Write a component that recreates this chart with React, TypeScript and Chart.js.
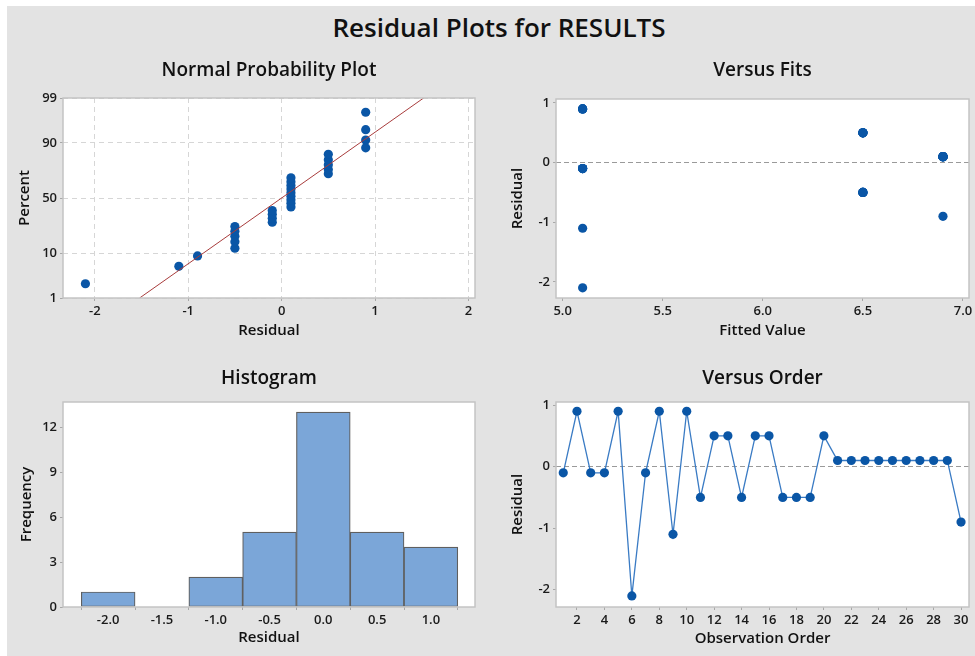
import React, { useEffect, useRef } from "react";
import { Chart, registerables } from "chart.js";

Chart.register(...registerables);

const FONT = '"Open Sans", "Noto Sans", sans-serif';

// ---------- Normal probability plot ----------
const npResiduals = [
  -2.1, -1.1, -0.9, -0.5, -0.5, -0.5, -0.5, -0.5, -0.1, -0.1, -0.1, -0.1,
  0.1, 0.1, 0.1, 0.1, 0.1, 0.1, 0.1, 0.1, 0.1, 0.5, 0.5, 0.5, 0.5, 0.5,
  0.9, 0.9, 0.9, 0.9,
];
const npPercents = [
  2.30, 5.59, 8.88, 12.17, 15.46, 18.75, 22.04, 25.33, 28.62, 31.91, 35.2,
  38.49, 41.78, 45.07, 48.36, 51.64, 54.93, 58.22, 61.51, 64.8, 68.09, 71.38,
  74.67, 77.96, 81.25, 84.54, 87.83, 91.12, 94.41, 97.7,
];
const npFitResidual = [-1.52, 1.52];
const npFitPercent = [1, 99];
const npXTicks = [-2, -1, 0, 1, 2];
const npYTicks = [1, 10, 50, 90, 99];

// ---------- Versus fits / order ----------
const fittedValues = [
  5.1, 5.1, 5.1, 5.1, 5.1, 5.1, 5.1, 5.1, 5.1, 5.1,
  6.5, 6.5, 6.5, 6.5, 6.5, 6.5, 6.5, 6.5, 6.5, 6.5,
  6.9, 6.9, 6.9, 6.9, 6.9, 6.9, 6.9, 6.9, 6.9, 6.9,
];
const observationOrder = [
  1, 2, 3, 4, 5, 6, 7, 8, 9, 10, 11, 12, 13, 14, 15, 16, 17, 18, 19, 20, 21,
  22, 23, 24, 25, 26, 27, 28, 29, 30,
];
const orderResiduals = [
  -0.1, 0.9, -0.1, -0.1, 0.9, -2.1, -0.1, 0.9, -1.1, 0.9,
  -0.5, 0.5, 0.5, -0.5, 0.5, 0.5, -0.5, -0.5, -0.5, 0.5,
  0.1, 0.1, 0.1, 0.1, 0.1, 0.1, 0.1, 0.1, 0.1, -0.9,
];
const fitsXTicks = [5.0, 5.5, 6.0, 6.5, 7.0];
const residualTicks = [-2, -1, 0, 1];
const orderXTicks = [2, 4, 6, 8, 10, 12, 14, 16, 18, 20, 22, 24, 26, 28, 30];

// ---------- Histogram ----------
const histCenters = [-2.0, -1.5, -1.0, -0.5, 0.0, 0.5, 1.0];
const histCounts = [1, 0, 2, 5, 13, 5, 4];
const histYTicks = [0, 3, 6, 9, 12];

// inverse standard normal CDF (probability-scale transform)
function probit(p: number): number {
  const a = [-3.969683028665376e1, 2.209460984245205e2, -2.759285104469687e2, 1.38357751867269e2, -3.066479806614716e1, 2.506628277459239];
  const b = [-5.447609879822406e1, 1.615858368580409e2, -1.556989798598866e2, 6.680131188771972e1, -1.328068155288572e1];
  const c = [-7.784894002430293e-3, -3.223964580411365e-1, -2.400758277161838, -2.549671010139401, 4.374664141464968, 2.938163982698783];
  const d = [7.784695709041462e-3, 3.224671290700398e-1, 2.445134137142996, 3.754408661907416];
  const pl = 0.02425;
  if (p < pl) {
    const q = Math.sqrt(-2 * Math.log(p));
    return (((((c[0] * q + c[1]) * q + c[2]) * q + c[3]) * q + c[4]) * q + c[5]) / ((((d[0] * q + d[1]) * q + d[2]) * q + d[3]) * q + 1);
  }
  if (p <= 1 - pl) {
    const q = p - 0.5;
    const r = q * q;
    return ((((((a[0] * r + a[1]) * r + a[2]) * r + a[3]) * r + a[4]) * r + a[5]) * q) / (((((b[0] * r + b[1]) * r + b[2]) * r + b[3]) * r + b[4]) * r + 1);
  }
  const q = Math.sqrt(-2 * Math.log(1 - p));
  return -(((((c[0] * q + c[1]) * q + c[2]) * q + c[3]) * q + c[4]) * q + c[5]) / ((((d[0] * q + d[1]) * q + d[2]) * q + d[3]) * q + 1);
}
const z = (pct: number) => probit(pct / 100);

const POINT = "#0a56a6";
const TICK_FONT = { family: FONT, size: 13, weight: "600" as const };
const AXIS_FONT = { family: FONT, size: 15, weight: "600" as const };

const framePlugin = {
  id: "frame",
  beforeDraw(chart: any) {
    const { ctx, chartArea: a } = chart;
    ctx.save();
    ctx.fillStyle = "#ffffff";
    ctx.fillRect(a.left, a.top, a.right - a.left, a.bottom - a.top);
    ctx.restore();
  },
  afterDraw(chart: any) {
    const { ctx, chartArea: a } = chart;
    ctx.save();
    ctx.strokeStyle = "#c4c4c4";
    ctx.lineWidth = 1.5;
    ctx.strokeRect(a.left, a.top, a.right - a.left, a.bottom - a.top);
    ctx.restore();
  },
};

function xScale(o: {
  min: number; max: number; ticks: number[]; fmt: (v: number) => string;
  title: string; height: number; titleBottom: number; gridColor: any; dash?: number[];
}) {
  return {
    type: "linear",
    min: o.min,
    max: o.max,
    offset: false,
    afterBuildTicks: (s: any) => { s.ticks = o.ticks.map((v) => ({ value: v })); },
    afterFit: (s: any) => { s.height = o.height; s.paddingLeft = 0; s.paddingRight = 0; },
    ticks: { font: TICK_FONT, color: "#1a1a1a", padding: 2, autoSkip: false, maxRotation: 0, callback: (v: any) => o.fmt(Number(v)) },
    grid: { color: o.gridColor, tickColor: "#a8a8a8", tickLength: 3, tickBorderDash: [], drawTicks: true },
    border: { display: false, dash: o.dash || [] },
    title: { display: true, text: o.title, font: AXIS_FONT, color: "#111", padding: { top: 0, bottom: o.titleBottom } },
  };
}

function yScale(o: {
  min: number; max: number; ticks: number[]; labels?: (string | number)[]; fmt?: (v: number) => string;
  title: string; width: number; titleLeft: number; gridColor: any; dash?: number[];
}) {
  return {
    type: "linear",
    min: o.min,
    max: o.max,
    afterBuildTicks: (s: any) => { s.ticks = o.ticks.map((v) => ({ value: v })); },
    afterFit: (s: any) => { s.width = o.width; s.paddingTop = 0; s.paddingBottom = 0; },
    ticks: {
      font: TICK_FONT, color: "#1a1a1a", padding: 3, autoSkip: false,
      callback: (v: any, i: number) => (o.labels ? String(o.labels[i]) : o.fmt ? o.fmt(Number(v)) : String(v)),
    },
    grid: { color: o.gridColor, tickColor: "#a8a8a8", tickLength: 3, tickBorderDash: [], drawTicks: true },
    border: { display: false, dash: o.dash || [] },
    title: { display: true, text: o.title, font: AXIS_FONT, color: "#111", padding: { top: o.titleLeft, bottom: 0 } },
  };
}

function baseOptions(title: string, titlePad: { top: number; bottom: number }, rightPad: number, x: any, y: any) {
  return {
    responsive: false,
    animation: false,
    events: [],
    layout: { padding: { left: 0, right: rightPad, top: 0, bottom: 0 } },
    plugins: {
      legend: { display: false },
      tooltip: { enabled: false },
      title: {
        display: true, text: title, fullSize: false, color: "#111",
        font: { family: FONT, size: 19, weight: "600", lineHeight: 1.2 }, padding: titlePad,
      },
    },
    scales: { x, y },
  };
}

const zeroLine = (ctx: any) => (ctx.tick && ctx.tick.value === 0 ? "#9a9a9a" : "rgba(0,0,0,0)");
const none = "rgba(0,0,0,0)";

function normalConfig(): any {
  return {
    type: "scatter",
    data: {
      datasets: [
        {
          data: npFitResidual.map((r, i) => ({ x: r, y: z(npFitPercent[i]) })),
          showLine: true, borderColor: "#a83c3c", borderWidth: 1, pointRadius: 0,
        },
        {
          data: npResiduals.map((r, i) => ({ x: r, y: z(npPercents[i]) })),
          pointRadius: 4.6, pointBackgroundColor: POINT, pointBorderWidth: 0, showLine: false,
        },
      ],
    },
    options: baseOptions(
      "Normal Probability Plot", { top: 9.6, bottom: 15.6 }, 12,
      xScale({ min: -2.34, max: 2.07, ticks: npXTicks, fmt: (v) => String(v), title: "Residual", height: 52, titleBottom: 10, gridColor: "#d6d6d6", dash: [5, 4] }),
      yScale({ min: z(1), max: z(99), ticks: npYTicks.map(z), labels: npYTicks, title: "Percent", width: 63, titleLeft: 16, gridColor: "#d6d6d6", dash: [5, 4] })
    ),
    plugins: [framePlugin],
  };
}

function fitsConfig(): any {
  return {
    type: "scatter",
    data: {
      datasets: [
        {
          data: fittedValues.map((f, i) => ({ x: f, y: orderResiduals[i] })),
          pointRadius: 4.6, pointBackgroundColor: POINT, pointBorderWidth: 0,
        },
      ],
    },
    options: baseOptions(
      "Versus Fits", { top: 9.6, bottom: 16.6 }, 6,
      xScale({ min: 4.967, max: 7.03, ticks: fitsXTicks, fmt: (v) => v.toFixed(1), title: "Fitted Value", height: 52, titleBottom: 10, gridColor: none }),
      yScale({ min: -2.27, max: 1.067, ticks: residualTicks, fmt: (v) => String(v), title: "Residual", width: 69, titleLeft: 22, gridColor: zeroLine, dash: [5, 3] })
    ),
    plugins: [framePlugin],
  };
}

function histConfig(): any {
  return {
    type: "bar",
    data: {
      datasets: [
        {
          data: histCenters.map((c, i) => ({ x: c, y: histCounts[i] })),
          backgroundColor: "#7ba6d8", borderColor: "#5f5f5f", borderWidth: 1.2,
          borderSkipped: false, barPercentage: 1, categoryPercentage: 1,
        },
      ],
    },
    options: baseOptions(
      "Histogram", { top: 12.6, bottom: 11.6 }, 12,
      xScale({ min: -2.42, max: 1.41, ticks: histCenters, fmt: (v) => v.toFixed(1), title: "Residual", height: 49, titleBottom: 9, gridColor: none }),
      yScale({ min: 0, max: 13.67, ticks: histYTicks, fmt: (v) => String(v), title: "Frequency", width: 63, titleLeft: 18, gridColor: none })
    ),
    plugins: [framePlugin],
  };
}

function orderConfig(): any {
  return {
    type: "line",
    data: {
      datasets: [
        {
          data: observationOrder.map((o, i) => ({ x: o, y: orderResiduals[i] })),
          borderColor: "#3a7bc4", borderWidth: 1.3, tension: 0,
          pointRadius: 4.6, pointBackgroundColor: POINT, pointBorderWidth: 0,
        },
      ],
    },
    options: baseOptions(
      "Versus Order", { top: 12.6, bottom: 11.6 }, 6,
      xScale({ min: 0.47, max: 30.58, ticks: orderXTicks, fmt: (v) => String(v), title: "Observation Order", height: 49, titleBottom: 8, gridColor: none }),
      yScale({ min: -2.28, max: 1.05, ticks: residualTicks, fmt: (v) => String(v), title: "Residual", width: 69, titleLeft: 22, gridColor: zeroLine, dash: [5, 3] })
    ),
    plugins: [framePlugin],
  };
}

function ChartBox(props: { left: number; top: number; width: number; height: number; make: () => any }) {
  const ref = useRef<HTMLCanvasElement | null>(null);
  useEffect(() => {
    if (!ref.current) return;
    const chart = new Chart(ref.current, props.make());
    return () => chart.destroy();
  }, []);
  return (
    <canvas
      ref={ref}
      width={props.width}
      height={props.height}
      style={{ position: "absolute", left: props.left, top: props.top, width: props.width, height: props.height }}
    />
  );
}

export default function App() {
  return (
    <div style={{ position: "absolute", left: 0, top: 0, width: 975, height: 656, background: "#ffffff", overflow: "hidden", fontFamily: FONT }}>
      <div style={{ position: "absolute", left: 7, top: 6, width: 968, height: 650, background: "#e3e3e3" }} />
      <div
        style={{
          position: "absolute", left: 499, top: 9, transform: "translateX(-50%)", whiteSpace: "nowrap",
          fontSize: 26, fontWeight: 600, color: "#111", lineHeight: "36px",
        }}
      >
        Residual Plots for RESULTS
      </div>
      <ChartBox left={0} top={50} width={487} height={300} make={normalConfig} />
      <ChartBox left={487} top={50} width={488} height={300} make={fitsConfig} />
      <ChartBox left={0} top={355} width={487} height={301} make={histConfig} />
      <ChartBox left={487} top={355} width={488} height={301} make={orderConfig} />
    </div>
  );
}
